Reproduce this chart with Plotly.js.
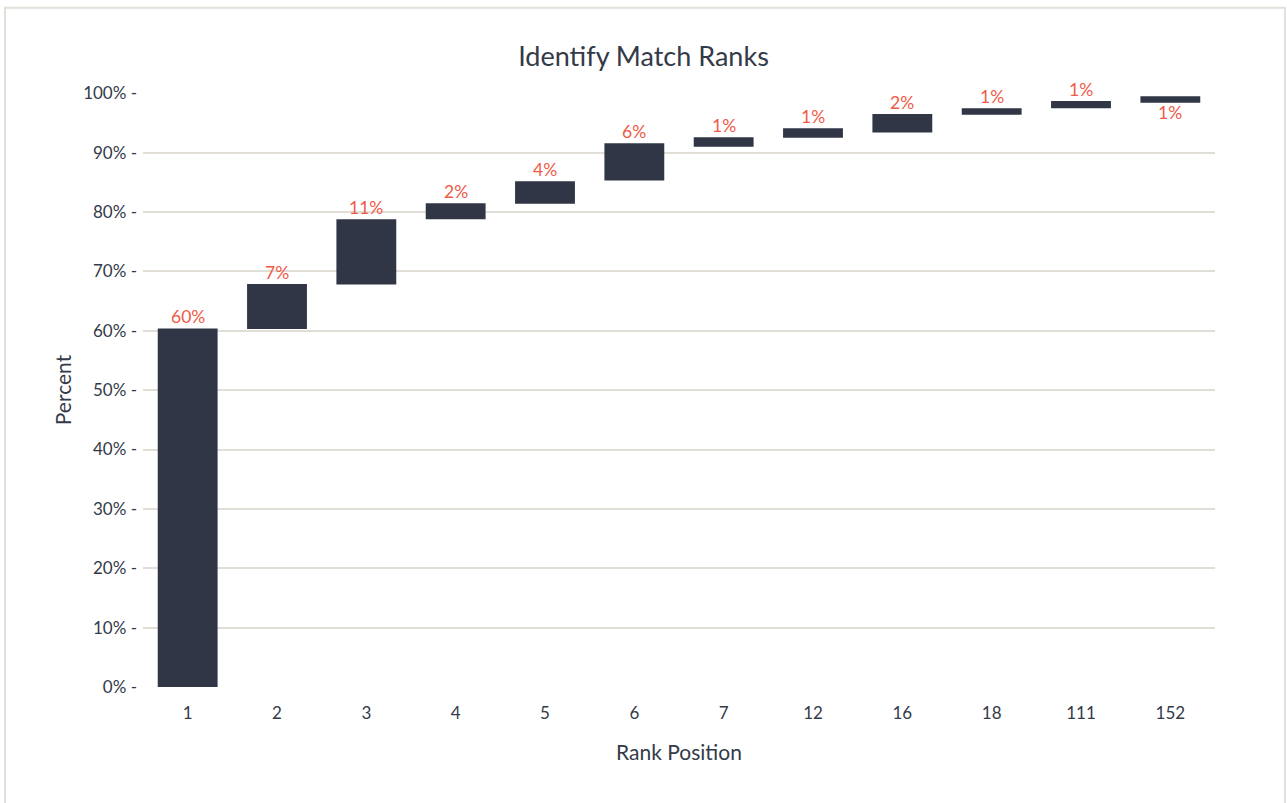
<!DOCTYPE html>
<html>
<head>
<meta charset="utf-8">
<script src="https://cdn.plot.ly/plotly-3.0.1.min.js"></script>
<style>html,body{margin:0;padding:0;background:#fff;}#chart{width:1287px;height:803px;}</style>
</head>
<body>
<div id="chart"></div>
<script>
// Rank positions (x categories)
const categories = ['1','2','3','4','5','6','7','12','16','18','111','152'];
// Bottom and top of each floating bar (percent)
const bottoms = [0, 60.3, 67.8, 78.8, 81.4, 85.3, 91.0, 92.5, 93.4, 96.4, 97.5, 98.4];
const tops    = [60.4, 67.9, 78.8, 81.5, 85.2, 91.6, 92.6, 94.1, 96.5, 97.5, 98.7, 99.5];
// Data labels as shown
const labels  = ['60%','7%','11%','2%','4%','6%','1%','1%','2%','1%','1%','1%'];
// Y tick values
const yTicks = [0,10,20,30,40,50,60,70,80,90,100];

const FONT = 'Lato, "Open Sans", sans-serif';
const TXT = '#333a48';
const BAR = '#303646';
const RED = '#ef5a48';
const GRID = '#e1ded7';

const heights = tops.map((t, i) => t - bottoms[i]);

const trace = {
  type: 'bar',
  x: categories,
  y: heights,
  base: bottoms,
  width: 0.67,
  marker: {color: BAR, line: {width: 0}},
  hoverinfo: 'skip'
};

const lastIdx = categories.length - 1;
const annotations = categories.map((c, i) => {
  const below = (i === lastIdx);
  return {
    x: i, xref: 'x',
    y: below ? bottoms[i] : tops[i], yref: 'y',
    text: labels[i],
    showarrow: false,
    yanchor: below ? 'top' : 'bottom',
    yshift: below ? 3 : -1,
    font: {family: FONT, size: 17.5, color: RED}
  };
});

const layout = {
  width: 1287, height: 803,
  margin: {l: 143, r: 72, t: 93, b: 116},
  paper_bgcolor: '#ffffff',
  plot_bgcolor: '#ffffff',
  showlegend: false,
  title: {text: 'Identify Match Ranks', x: 0.5, xref: 'container', xanchor: 'center', y: 0.929, yanchor: 'middle', font: {family: FONT, size: 27, color: TXT}},
  xaxis: {
    type: 'category',
    range: [-0.5, categories.length - 0.5],
    showgrid: false, zeroline: false, showline: false, ticks: '',
    tickfont: {family: FONT, size: 17, color: TXT},
    ticklabelstandoff: 14,
    title: {text: 'Rank Position', font: {family: FONT, size: 21, color: TXT}, standoff: 23}
  },
  yaxis: {
    range: [0, 100.05],
    tickvals: yTicks,
    ticktext: yTicks.map(v => v + '% -'),
    showgrid: true, gridcolor: GRID, gridwidth: 2,
    zeroline: false, showline: false, ticks: '',
    tickfont: {family: FONT, size: 17, color: TXT},
    ticklabelstandoff: 5,
    title: {text: 'Percent', font: {family: FONT, size: 21, color: TXT}, standoff: 5}
  },
  annotations: annotations,
  shapes: [{
    type: 'rect', xref: 'paper', yref: 'paper',
    x0: -0.1287, x1: 1.0652, y0: -0.30, y1: 1.1437,
    line: {color: '#e3e0da', width: 2}, fillcolor: 'rgba(0,0,0,0)', layer: 'below'
  }]
};

Plotly.newPlot('chart', [trace], layout, {staticPlot: true, displayModeBar: false});
</script>
</body>
</html>
